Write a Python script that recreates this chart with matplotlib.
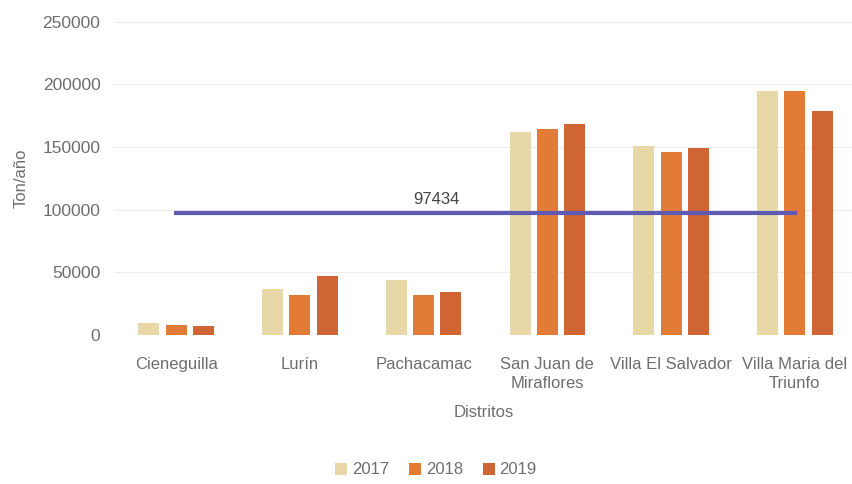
import matplotlib
matplotlib.use("Agg")
import matplotlib.pyplot as plt
import numpy as np

plt.rcParams['font.family'] = ['Liberation Sans', 'DejaVu Sans']

categories = ["Cieneguilla", "Lurín", "Pachacamac", "San Juan de\nMiraflores",
              "Villa El Salvador", "Villa Maria del\nTriunfo"]
years = ["2017", "2018", "2019"]
v2017 = [9600, 36500, 43500, 162400, 151200, 194400]
v2018 = [8000, 31500, 31500, 164500, 145900, 194400]
v2019 = [7200, 46700, 34000, 168500, 149300, 178600]
promedio = 97434

colors = ['#E8D8A8', '#E27B36', '#CF6535']
text_color = '#6E6E6E'

fig = plt.figure(figsize=(8.53, 4.84), dpi=100)
ax = fig.add_axes([0.134, 0.308, 0.866, 0.647])
x = np.arange(len(categories))
w = 0.17
pitch = 0.22
for i, (vals, c, lab) in enumerate(zip([v2017, v2018, v2019], colors, years)):
    ax.bar(x + (i - 1) * pitch, vals, width=w, color=c, label=lab, zorder=2)

ax.plot([x[0], x[-1]], [promedio, promedio], color='#5F5BB5', lw=3, zorder=3)
ax.text(2.1, promedio + 5000, str(promedio), color='#444444', fontsize=12,
        ha='center', va='bottom')

ax.set_xlim(-0.5, 5.47)
ax.set_ylim(0, 250000)
ax.set_yticks(np.arange(0, 250001, 50000))
ax.yaxis.grid(True, color='#EDEDED', lw=0.8, zorder=0)
ax.set_axisbelow(True)
for s in ax.spines.values():
    s.set_visible(False)
ax.tick_params(axis='both', length=0, colors=text_color, labelsize=12.5)
ax.tick_params(axis='y', pad=10)
ax.tick_params(axis='x', pad=16)
ax.set_xticks(x)
ax.set_xticklabels(categories, fontsize=12, color=text_color, linespacing=1.3)
ax.set_ylabel("Ton/año", fontsize=12, color=text_color, labelpad=10)
ax.set_xlabel("Distritos", fontsize=12, color=text_color, labelpad=10)

handles, labels = ax.get_legend_handles_labels()
fig.legend(handles, labels, loc='center', bbox_to_anchor=(436 / 853, 1 - 470 / 484),
           ncol=3, frameon=False, fontsize=12, handlelength=0.7, handleheight=0.7,
           handletextpad=0.3, columnspacing=1.2, labelcolor=text_color)

fig.savefig("out.png", dpi=100)
